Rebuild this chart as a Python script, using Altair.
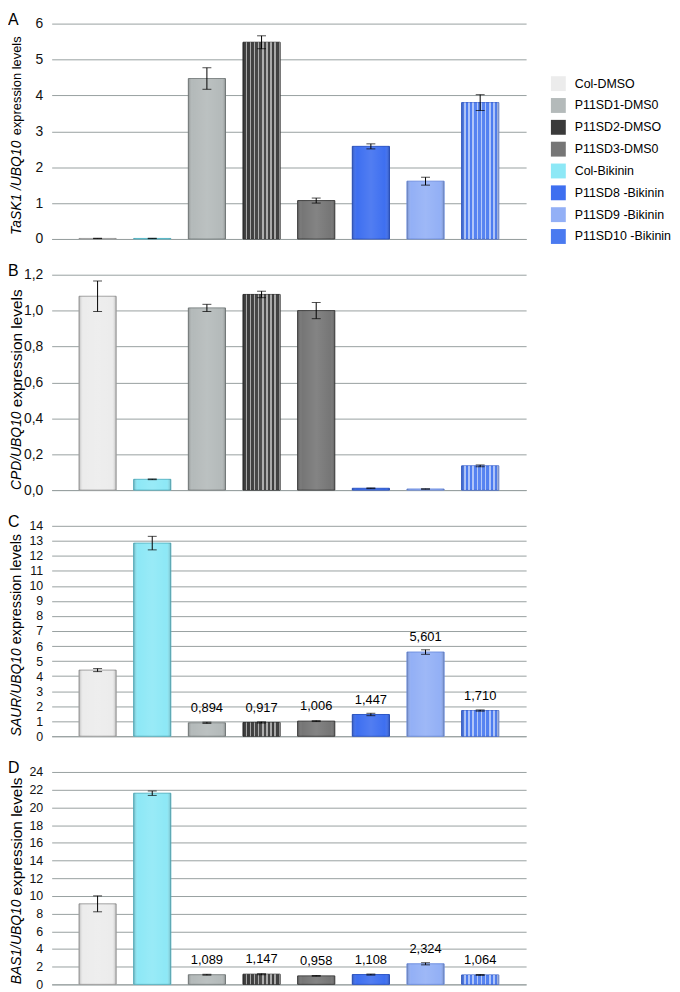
import altair as alt
import pandas as pd

FONT = "Liberation Sans"
GRID = "#98a0a0"

# ---- categories (bar order) and legend order ----
categories = ["Col-DMSO", "Col-Bikinin", "P11SD1-DMS0", "P11SD2-DMSO", "P11SD3-DMS0",
              "P11SD8 -Bikinin", "P11SD9 -Bikinin", "P11SD10 -Bikinin"]
legend_order = ["Col-DMSO", "P11SD1-DMS0", "P11SD2-DMSO", "P11SD3-DMS0",
                "Col-Bikinin", "P11SD8 -Bikinin", "P11SD9 -Bikinin", "P11SD10 -Bikinin"]
fill_colors = ["#ececec", "#b4baba", "#3a3a3a", "#767676",
               "#8de8f6", "#3e6ff0", "#93b0f6", "#4a7af0"]
stroke_colors = ["#a0a0a0", "#7f8585", "#2e2e2e", "#404040",
                 "#58b6c6", "#2a55c8", "#6f8fe0", "#3a63d0"]
# bars that carry a vertical line texture (grid / checker patterns)
striped = ["P11SD2-DMSO", "P11SD10 -Bikinin"]

# ---- panel A: TaSK1/UBQ10 ----
task1_mean = [0.015, 0.015, 4.47, 5.48, 1.07, 2.58, 1.61, 3.80]
task1_err = [0.005, 0.005, 0.30, 0.18, 0.07, 0.07, 0.11, 0.22]
task1_ticks = [0, 1, 2, 3, 4, 5, 6]

# ---- panel B: CPD/UBQ10 ----
cpd_mean = [1.08, 0.06, 1.015, 1.09, 1.00, 0.01, 0.006, 0.135]
cpd_err = [0.085, 0.002, 0.02, 0.018, 0.045, 0.002, 0.001, 0.005]
cpd_ticks = [0.0, 0.2, 0.4, 0.6, 0.8, 1.0, 1.2]

# ---- panel C: SAUR/UBQ10 ----
saur_mean = [4.40, 12.85, 0.894, 0.917, 1.006, 1.447, 5.601, 1.710]
saur_err = [0.10, 0.45, 0.04, 0.04, 0.03, 0.08, 0.15, 0.04]
saur_ticks = list(range(0, 15))

# ---- panel D: BAS1/UBQ10 ----
bas1_mean = [9.10, 21.60, 1.089, 1.147, 0.958, 1.108, 2.324, 1.064]
bas1_err = [0.90, 0.25, 0.05, 0.06, 0.04, 0.06, 0.12, 0.05]
bas1_ticks = list(range(0, 25, 2))

show_value = [False, False, True, True, True, True, True, True]

# approximate Arial/Liberation Sans advance widths (per 1000 em)
CW = {"T": 611, "a": 556, "S": 667, "K": 667, "1": 556, " ": 278, "/": 278, "U": 722,
      "B": 667, "Q": 778, "0": 556, "C": 722, "P": 667, "D": 722, "A": 667, "R": 722}


def text_w(s, size):
    return sum(CW.get(ch, 556) for ch in s) * size / 1000.0


bevel = alt.LinearGradient(
    gradient="linear", x1=0, x2=1, y1=0, y2=0,
    stops=[alt.GradientStop(offset=0, color="rgba(0,0,0,0.22)"),
           alt.GradientStop(offset=0.12, color="rgba(255,255,255,0.0)"),
           alt.GradientStop(offset=0.5, color="rgba(255,255,255,0.10)"),
           alt.GradientStop(offset=0.88, color="rgba(255,255,255,0.0)"),
           alt.GradientStop(offset=1, color="rgba(0,0,0,0.22)")])

N_STRIPES = 9
stripe_stops = []
for i in range(N_STRIPES):
    a = i / N_STRIPES
    b = (i + 0.62) / N_STRIPES
    c = (i + 1) / N_STRIPES
    stripe_stops += [alt.GradientStop(offset=a, color="rgba(255,255,255,0)"),
                     alt.GradientStop(offset=b, color="rgba(255,255,255,0)"),
                     alt.GradientStop(offset=b, color="rgba(255,255,255,0.55)"),
                     alt.GradientStop(offset=c, color="rgba(255,255,255,0.55)")]
stripes = alt.LinearGradient(gradient="linear", x1=0, x2=1, y1=0, y2=0, stops=stripe_stops)


def panel(letter, mean, err, ticks, gene, rest, height, label_expr, labels_on,
          legend, tick_size, gene_size, rest_size, title_bottom):
    df = pd.DataFrame({
        "cat": categories,
        "mean": mean,
        "lo": [m - e for m, e in zip(mean, err)],
        "hi": [m + e for m, e in zip(mean, err)],
        "label": [(f"{m:.3f}".replace(".", ",") if (labels_on and s) else "")
                  for m, s in zip(mean, show_value)],
        "striped": [c in striped for c in categories],
    })
    base = alt.Chart(df)
    xscale = alt.Scale(paddingInner=0.32, paddingOuter=0.5)
    xaxis = alt.Axis(labels=False, ticks=False, title=None, grid=False,
                     domainColor=GRID, domainWidth=1)
    xs = alt.X("cat:N", sort=categories, scale=xscale, axis=xaxis)
    yscale = alt.Scale(domain=[ticks[0], ticks[-1]], nice=False, zero=True)
    yaxis = alt.Axis(values=ticks, labelExpr=label_expr, title=None,
                     tickCount=len(ticks), labelOverlap=False,
                     grid=True, gridColor=GRID, gridWidth=1,
                     domain=False, ticks=False, labelPadding=9,
                     labelFontSize=tick_size, labelFont=FONT,
                     labelColor="#111111")

    def Y(field):
        return alt.Y(field, scale=yscale, axis=yaxis, title=None)

    bars = base.mark_bar(strokeWidth=1).encode(
        x=xs, y=Y("mean:Q"),
        fill=alt.Fill("cat:N", scale=alt.Scale(domain=legend_order, range=fill_colors),
                      legend=legend),
        stroke=alt.Stroke("cat:N", scale=alt.Scale(domain=legend_order, range=stroke_colors),
                          legend=None),
    )
    tex = base.transform_filter("datum.striped").mark_bar(fill=stripes, strokeWidth=0).encode(
        x=xs, y=Y("mean:Q"))
    shade = base.mark_bar(fill=bevel, strokeWidth=0).encode(x=xs, y=Y("mean:Q"))
    rule = base.mark_rule(color="black", strokeWidth=1).encode(
        x=xs, y=Y("lo:Q"), y2="hi:Q")
    cap_lo = base.mark_tick(color="black", size=9, thickness=1).encode(x=xs, y=Y("lo:Q"))
    cap_hi = base.mark_tick(color="black", size=9, thickness=1).encode(x=xs, y=Y("hi:Q"))
    layers = [bars, tex, shade, rule, cap_lo, cap_hi]
    if labels_on:
        layers.append(base.mark_text(font=FONT, fontSize=13, color="black",
                                     baseline="middle", dy=-15).encode(
            x=xs, y=Y("mean:Q"), text="label:N"))
    one = pd.DataFrame({"t": [letter], "g": [gene], "r": [rest]})
    tb = alt.Chart(one)
    y_gene = height - title_bottom
    y_rest = y_gene - text_w(gene, gene_size) - 4
    letter_mark = tb.mark_text(font=FONT, fontSize=16, color="black", align="left",
                               baseline="top").encode(
        x=alt.value(-44), y=alt.value(-12), text="t:N")
    gene_mark = tb.mark_text(font=FONT, fontSize=gene_size, fontStyle="italic",
                             color="black", align="left", baseline="middle",
                             angle=270).encode(
        x=alt.value(-35), y=alt.value(y_gene), text="g:N")
    rest_mark = tb.mark_text(font=FONT, fontSize=rest_size, color="black",
                             align="left", baseline="middle", angle=270).encode(
        x=alt.value(-35), y=alt.value(y_rest), text="r:N")
    layers += [letter_mark, gene_mark, rest_mark]
    return alt.layer(*layers).properties(width=478, height=height).resolve_scale(
        fill="independent", stroke="independent")


legend_a = alt.Legend(orient="none", legendX=503, legendY=53, title=None,
                      symbolType="square", symbolSize=225, symbolStrokeWidth=0,
                      labelFontSize=12.5, labelFont=FONT, labelColor="black",
                      rowPadding=7, labelOffset=9, padding=0)

int_expr = "format(datum.value, 'd')"
dec_expr = "replace(format(datum.value, '.1f'), '.', ',')"

pa = panel("A", task1_mean, task1_err, task1_ticks, "TaSK1 /UBQ10", "expression levels",
           217, int_expr, False, legend_a, 14, 14, 13, 4)
pb = panel("B", cpd_mean, cpd_err, cpd_ticks, "CPD/UBQ10", "expression levels",
           217, dec_expr, False, None, 14, 14, 15.5, 0)
pc = panel("C", saur_mean, saur_err, saur_ticks, "SAUR/UBQ10", " expression levels",
           212, int_expr, True, None, 12.5, 14, 14.5, 0)
pd_ = panel("D", bas1_mean, bas1_err, bas1_ticks, "BAS1/UBQ10", "expression levels",
            214, int_expr, True, None, 12.5, 14, 15.5, 0)

chart = alt.vconcat(pa, pb, pc, pd_, spacing=36, bounds="flush").resolve_scale(
    y="independent", x="independent", fill="independent", stroke="independent"
).resolve_legend(fill="independent", stroke="independent").properties(
    padding={"left": 0, "top": 0, "right": 0, "bottom": 0}
).configure_view(strokeWidth=0)

chart.save("out.html", embed_options={"renderer": "svg", "actions": False})
